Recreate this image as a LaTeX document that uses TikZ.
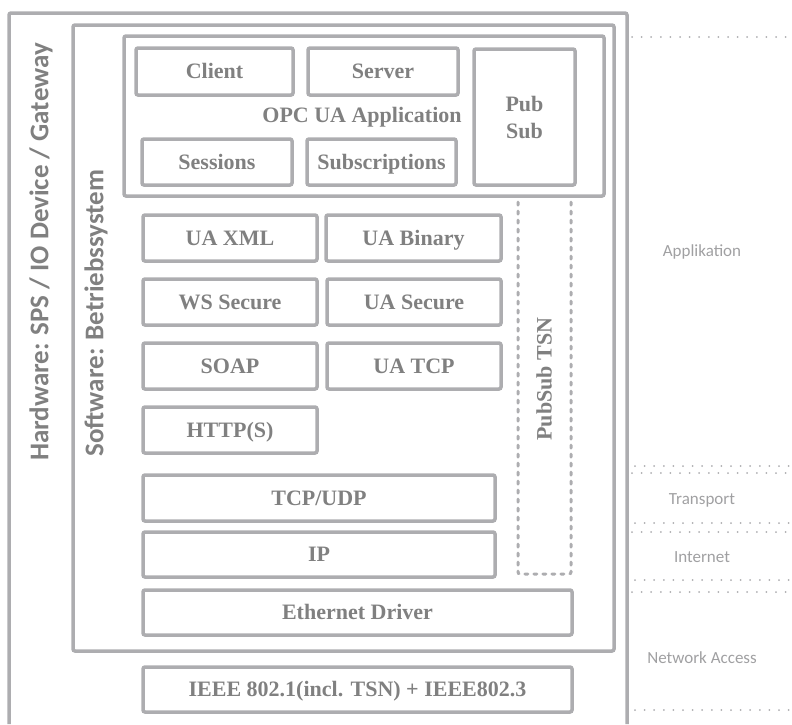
\documentclass[tikz,border=0pt]{standalone}
\usepackage{fontspec}
\setmainfont{Liberation Serif}
\newfontfamily\calib{Carlito}
\definecolor{lgray}{RGB}{173,173,176}
\definecolor{tgray}{RGB}{128,128,128}
\definecolor{lblgray}{RGB}{160,160,162}
\usetikzlibrary{positioning}
\tikzset{
  layer/.style={rectangle,rounded corners=2pt,draw=lgray,line width=3.5pt,
    minimum width=#1,minimum height=46pt,inner sep=0pt,outer sep=0pt,
    text height=15pt,text depth=1pt,
    font=\fontsize{22}{27}\selectfont\bfseries,text=tgray,align=center},
  frame/.style={rectangle,rounded corners=2pt,draw=lgray,line width=3.5pt,
    inner sep=0pt,outer sep=0pt},
  sidelbl/.style={rotate=90,font=\calib\fontsize{27}{30}\selectfont\bfseries,text=tgray},
  tcplbl/.style={font=\calib\fontsize{17}{20}\selectfont,text=lblgray},
  tcpsep/.style={draw=lgray,line width=2pt,line cap=round,dash pattern=on 0pt off 9.6pt},
  tsnline/.style={draw=lgray,line width=3pt,line cap=round,rounded corners=2pt,
    dash pattern=on 3pt off 6pt},
}

\begin{document}
\begin{tikzpicture}[x=1pt,y=-1pt]
  \useasboundingbox (0,0) rectangle (792,724);

  \draw[lgray,line width=3.5pt,rounded corners=2pt] (9,724) |- (627,13) -- (627,724);
  \node[sidelbl] (hw) at (41,252) {Hardware: SPS / IO Device / Gateway};

  \node[frame,minimum width=541pt,minimum height=626pt] (sw) at (343.5,338) {};
  \node[sidelbl] (swlbl) at (96,313) {Software: Betriebssystem};

  \node[frame,minimum width=480pt,minimum height=160pt] (app) at (364,116) {};
  \node[font=\fontsize{22}{27}\selectfont\bfseries,text=tgray] (applbl) at (362,117)
    {OPC UA Application};
  \node[layer=157pt,minimum height=47pt] (client) at (214.5,71.5) {Client};
  \node[layer=150pt,minimum height=47pt] (server) at (383,71.5) {Server};
  \node[layer=150pt] (sess) at (217,162) {Sessions};
  \node[layer=149pt] (subs) at (381.5,162) {Subscriptions};
  \node[layer=101pt,minimum height=136pt,text height=,text depth=] (pubsub)
    at (524.5,117) {Pub\\Sub};

  \node[layer=174pt] (uaxml) at (230,238) {UA XML};
  \node[layer=175pt,right=9pt of uaxml] (uabin) {UA Binary};
  \node[layer=174pt,below=18pt of uaxml] (wssec) {WS Secure};
  \node[layer=174pt,right=10pt of wssec] (uasec) {UA Secure};
  \node[layer=174pt,below=18pt of wssec] (soap) {SOAP};
  \node[layer=174pt,right=10pt of soap] (uatcp) {UA TCP};
  \node[layer=174pt,below=18pt of soap] (http) {HTTP(S)};

  \node[layer=352pt] (tcpudp) at (319,498) {TCP/UDP};
  \node[layer=352pt,minimum height=45pt] (ip) at (319,554.5) {IP};
  \node[layer=429pt,minimum height=45pt] (eth) at (357.5,612.5) {Ethernet Driver};
  \node[layer=429pt,minimum height=45pt] (ieee) at (357.5,689.5)
    {IEEE 802.1(incl. TSN) + IEEE802.3};

  \draw[tsnline] (518,202) -- (518,574) -- (571,574) -- (571,202);
  \node[rotate=90,font=\fontsize{22}{27}\selectfont\bfseries,text=tgray] (tsn)
    at (544,379) {PubSub TSN};

  \foreach \y in {37,473,532,592}
    \draw[tcpsep] (632,\y) -- (792,\y);
  \foreach \y in {466,523,580,710}
    \draw[tcpsep] (635,\y) -- (792,\y);

  \node[tcplbl] (applik) at (702,252) {Applikation};
  \node[tcplbl] (transp) at (702,500) {Transport};
  \node[tcplbl] (inet) at (702,557) {Internet};
  \node[tcplbl] (netacc) at (702,658) {Network Access};
\end{tikzpicture}
\end{document}
